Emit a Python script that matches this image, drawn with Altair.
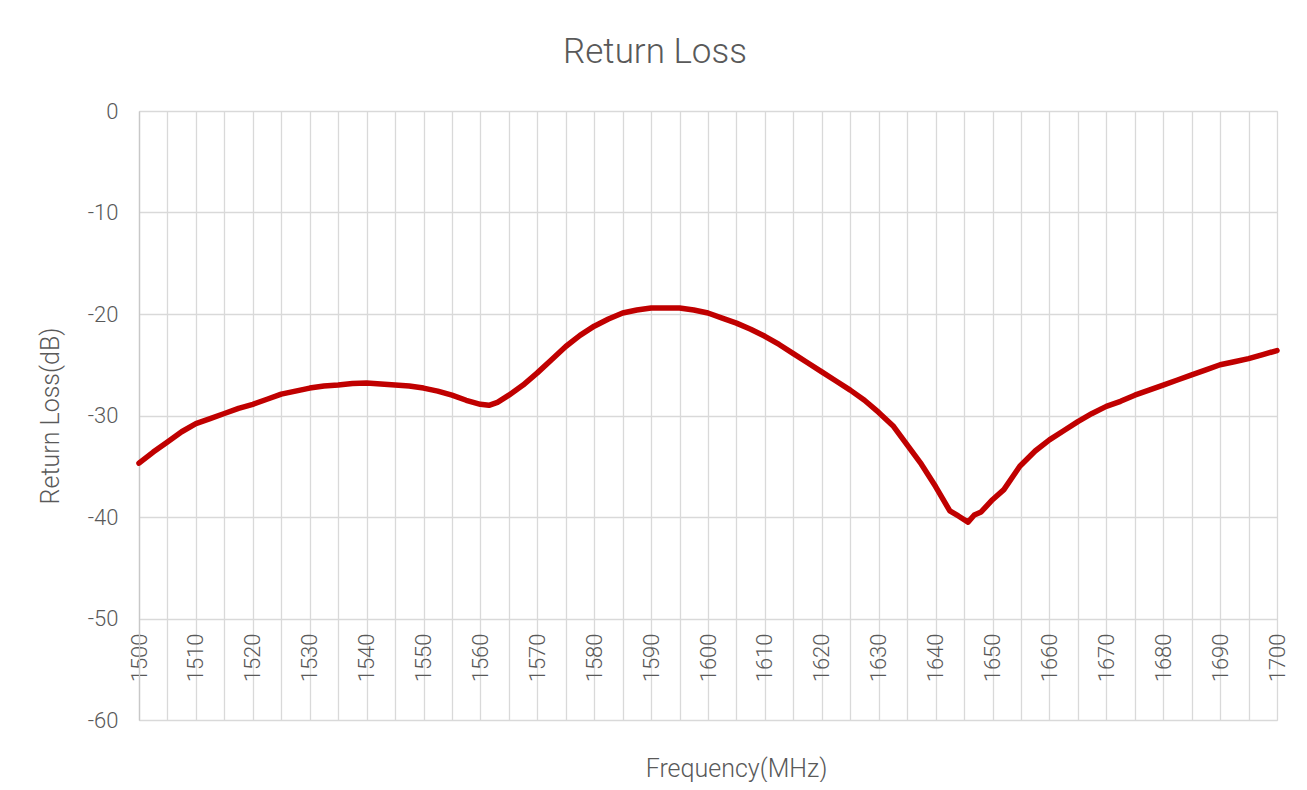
import altair as alt
import pandas as pd

freq = [1500, 1502.5, 1505, 1507.5, 1510, 1512.5, 1515, 1517.5, 1520, 1522.5,
        1525, 1527.5, 1530, 1532.5, 1535, 1537.5, 1540, 1542.5, 1545, 1547.5,
        1550, 1552.5, 1555, 1557.5, 1560, 1561.5, 1563, 1565, 1567.5, 1570,
        1572.5, 1575, 1577.5, 1580, 1582.5, 1585, 1587.5, 1590, 1592.5, 1595,
        1597.5, 1600, 1602.5, 1605, 1607.5, 1610, 1612.5, 1615, 1617.5, 1620,
        1622.5, 1625, 1627.5, 1630, 1632.5, 1635, 1637.5, 1640, 1642.5, 1644,
        1645.7, 1646.8, 1648, 1650, 1652, 1654.8, 1657.5, 1660, 1662.5, 1665,
        1667.5, 1670, 1672.5, 1675, 1677.5, 1680, 1682.5, 1685, 1687.5, 1690,
        1692.5, 1695, 1697.5, 1700]
return_loss = [-34.7, -33.6, -32.6, -31.6, -30.8, -30.3, -29.8, -29.3, -28.9, -28.4,
               -27.9, -27.6, -27.3, -27.1, -27.0, -26.85, -26.8, -26.9, -27.0, -27.1,
               -27.3, -27.6, -28.0, -28.5, -28.9, -29.0, -28.7, -28.0, -27.0, -25.8,
               -24.5, -23.2, -22.1, -21.2, -20.5, -19.9, -19.6, -19.4, -19.4, -19.4,
               -19.6, -19.9, -20.4, -20.9, -21.5, -22.2, -23.0, -23.9, -24.8, -25.7,
               -26.6, -27.5, -28.5, -29.7, -31.0, -32.9, -34.8, -37.0, -39.4, -39.9,
               -40.5, -39.8, -39.5, -38.3, -37.3, -35.0, -33.5, -32.4, -31.5, -30.6,
               -29.8, -29.1, -28.6, -28.0, -27.5, -27.0, -26.5, -26.0, -25.5, -25.0,
               -24.7, -24.4, -24.0, -23.6]

x_ticks = list(range(1500, 1701, 5))
y_ticks = list(range(-60, 1, 10))

df = pd.DataFrame({"freq": freq, "rl": return_loss})

FONT = "Roboto"
TXT = "#595959"
GRID = "#d9d9d9"

line = alt.Chart(df).mark_line(
    color="#C00000", strokeWidth=5.5, strokeJoin="round", strokeCap="round"
).encode(
    x=alt.X("freq:Q",
            scale=alt.Scale(domain=[1500, 1700], nice=False, zero=False),
            axis=alt.Axis(values=x_ticks, grid=True, gridColor=GRID, gridWidth=1.3,
                          domain=False, ticks=False,
                          labelExpr="datum.value % 10 == 0 ? '' + datum.value : ''",
                          labelAngle=270, labelAlign="right", labelBaseline="middle",
                          labelPadding=14, labelFontSize=22, labelColor=TXT, labelFont=FONT,
                          labelFontWeight=300,
                          labelOverlap=False, labelFlush=False, offset=-101,
                          title="Frequency(MHz)", titleFont=FONT, titleFontSize=25,
                          titleFontWeight=300, titleColor=TXT,
                          titleX=597, titleY=157, titleBaseline="alphabetic",
                          titleAlign="center")),
    y=alt.Y("rl:Q",
            scale=alt.Scale(domain=[-60, 0], nice=False, zero=False),
            axis=alt.Axis(values=y_ticks, grid=True, gridColor=GRID, gridWidth=1.3,
                          domain=True, domainColor="#c8c8c8", domainWidth=1.3, ticks=False,
                          labelExpr="'' + datum.value",
                          labelPadding=21, labelFontSize=22, labelColor=TXT, labelFont=FONT,
                          labelFontWeight=300,
                          labelBaseline="middle", labelOverlap=False, labelFlush=False,
                          title="Return Loss(dB)", titleFont=FONT, titleFontSize=25,
                          titleFontWeight=300, titleColor=TXT,
                          titleX=-89, titleY=304.5, titleBaseline="middle",
                          titleAlign="center", titleAngle=270)),
)

chart = line.properties(
    width=1138, height=609,
    title=alt.TitleParams("Return Loss", fontSize=35, font=FONT, fontWeight=300,
                          color=TXT, anchor="middle", dx=-53, offset=30),
    autosize=alt.AutoSizeParams(type="none"),
    padding={"left": 131, "top": 103, "right": 22, "bottom": 62},
).configure_view(stroke=None).configure(background="white")

chart.save("out.html", embed_options={"renderer": "svg", "actions": False})
